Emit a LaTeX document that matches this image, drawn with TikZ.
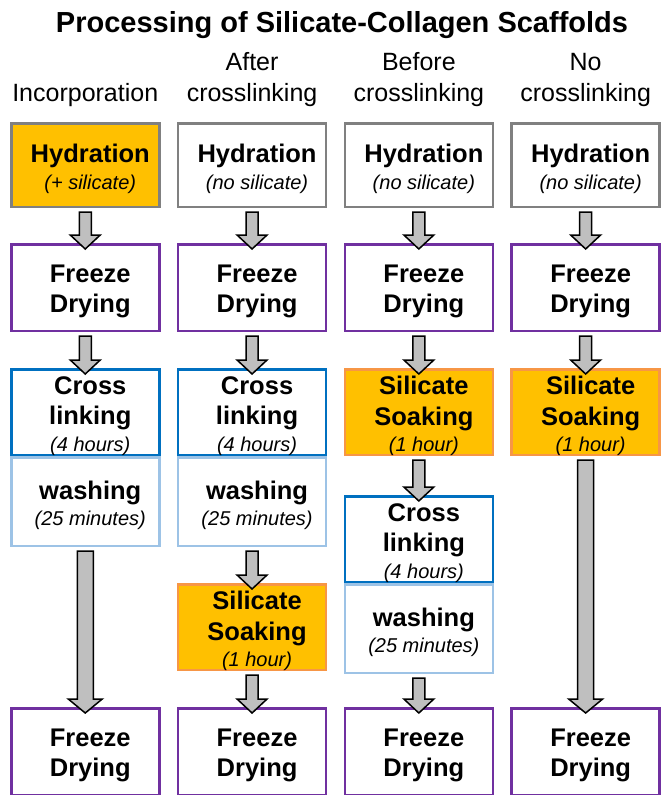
\documentclass[tikz,border=0pt]{standalone}
\usepackage{fontspec}
\setmainfont{Liberation Sans}
\usepackage{tikz}
\usetikzlibrary{positioning, calc}
\usepackage{xcolor}

\definecolor{silorange}{HTML}{FFC000}
\definecolor{silborder}{HTML}{F79646}
\definecolor{hydgray}{HTML}{808080}
\definecolor{frzpurple}{HTML}{7030A0}
\definecolor{xlblue}{HTML}{0070C0}
\definecolor{washblue}{HTML}{9DC3E6}
\definecolor{arrowgray}{HTML}{BFBFBF}

\newcommand{\boxfont}{\fontsize{25.5pt}{30.5pt}\selectfont\bfseries}
\newcommand{\subtxt}[1]{{\fontsize{20pt}{24pt}\selectfont\mdseries\itshape #1}}

% block arrow from the bottom of #2 into the top of #3, half shaft width #1
\newcommand{\flowarrow}[3][6pt]{%
\draw[blockarrow] let \p1=($(#2.south)+(0,-4pt)$), \p2=($(#3.north)+(0,-6pt)$) in
(\x1-#1,\y1) -- (\x1+#1,\y1) -- (\x1+#1,\y2+14pt) -- (\x1+#1+9pt,\y2+14pt)
-- (\x1,\y2) -- (\x1-#1-9pt,\y2+14pt) -- (\x1-#1,\y2+14pt) -- cycle;}

\begin{document}
\begin{tikzpicture}[
node distance=16.3pt,
box/.style={draw,
rectangle,
line width=2.5pt,
minimum width=148pt,
inner sep=0pt},
hydbox/.style={box, draw=hydgray, minimum height=83.5pt},
frzbox/.style={box, draw=frzpurple, minimum height=86.5pt},
xlbox/.style={box, draw=xlblue, minimum height=85.5pt},
washbox/.style={box, draw=washblue, minimum height=88.5pt},
silbox/.style={box, draw=silborder, fill=silorange, minimum height=85.5pt},
txt/.style={align=center, xshift=5pt, yshift=-4pt, font=\boxfont},
head/.style={align=center, inner sep=0pt, font=\fontsize{25pt}{31pt}\selectfont},
blockarrow/.style={draw=black, fill=arrowgray, line width=1.5pt}
]
\useasboundingbox (0,0) rectangle (661pt,-795pt);

\node[anchor=base, font=\fontsize{29pt}{34pt}\selectfont\bfseries] (title) at (342pt,-32pt) {Processing of Silicate-Collagen Scaffolds};

% first row
\node[hydbox, fill=silorange, label={[txt]center:{Hydration\\[-4pt]\subtxt{(+ silicate)}}}] (hyd1) at (85.25pt,-165pt) {};
\node[hydbox, right=of hyd1, label={[txt]center:{Hydration\\[-4pt]\subtxt{(no silicate)}}}] (hyd2) {};
\node[hydbox, right=of hyd2, label={[txt]center:{Hydration\\[-4pt]\subtxt{(no silicate)}}}] (hyd3) {};
\node[hydbox, right=of hyd3, label={[txt]center:{Hydration\\[-4pt]\subtxt{(no silicate)}}}] (hyd4) {};

\node[head, above=15pt of hyd1] (head1) {Incorporation};
\node[head, above=15pt of hyd2] (head2) {After\\crosslinking};
\node[head, above=15pt of hyd3] (head3) {Before\\crosslinking};
\node[head, above=15pt of hyd4] (head4) {No\\crosslinking};

% Incorporation
\node[frzbox, below=35pt of hyd1, label={[txt]center:{Freeze\\Drying}}] (frz1) {};
\node[xlbox, below=36pt of frz1, label={[txt]center:{Cross\\linking\\[-4pt]\subtxt{(4 hours)}}}] (xl1) {};
\node[washbox, below=0pt of xl1, label={[txt]center:{washing\\[-4pt]\subtxt{(25 minutes)}}}] (wash1) {};

% After crosslinking
\node[frzbox, below=35pt of hyd2, label={[txt]center:{Freeze\\Drying}}] (frz2) {};
\node[xlbox, below=36pt of frz2, label={[txt]center:{Cross\\linking\\[-4pt]\subtxt{(4 hours)}}}] (xl2) {};
\node[washbox, below=0pt of xl2, label={[txt]center:{washing\\[-4pt]\subtxt{(25 minutes)}}}] (wash2) {};
\node[silbox, below=36pt of wash2, label={[txt]center:{Silicate\\Soaking\\[-4pt]\subtxt{(1 hour)}}}] (sil2) {};

% Before crosslinking
\node[frzbox, below=35pt of hyd3, label={[txt]center:{Freeze\\Drying}}] (frz3) {};
\node[silbox, below=36pt of frz3, label={[txt]center:{Silicate\\Soaking\\[-4pt]\subtxt{(1 hour)}}}] (sil3) {};
\node[xlbox, below=39pt of sil3, label={[txt]center:{Cross\\linking\\[-4pt]\subtxt{(4 hours)}}}] (xl3) {};
\node[washbox, below=0pt of xl3, label={[txt]center:{washing\\[-4pt]\subtxt{(25 minutes)}}}] (wash3) {};

% No crosslinking
\node[frzbox, below=35pt of hyd4, label={[txt]center:{Freeze\\Drying}}] (frz4) {};
\node[silbox, below=36pt of frz4, label={[txt]center:{Silicate\\Soaking\\[-4pt]\subtxt{(1 hour)}}}] (sil4) {};

% last row
\node[frzbox, below=36pt of sil2, label={[txt]center:{Freeze\\Drying}}] (frzend2) {};
\node[frzbox, left=of frzend2, label={[txt]center:{Freeze\\Drying}}] (frzend1) {};
\node[frzbox, right=of frzend2, label={[txt]center:{Freeze\\Drying}}] (frzend3) {};
\node[frzbox, right=of frzend3, label={[txt]center:{Freeze\\Drying}}] (frzend4) {};

\flowarrow{hyd1}{frz1}
\flowarrow{frz1}{xl1}
\flowarrow[8pt]{wash1}{frzend1}

\flowarrow{hyd2}{frz2}
\flowarrow{frz2}{xl2}
\flowarrow{wash2}{sil2}
\flowarrow{sil2}{frzend2}

\flowarrow{hyd3}{frz3}
\flowarrow{frz3}{sil3}
\flowarrow{sil3}{xl3}
\flowarrow{wash3}{frzend3}

\flowarrow{hyd4}{frz4}
\flowarrow{frz4}{sil4}
\flowarrow[8pt]{sil4}{frzend4}

\end{tikzpicture}
\end{document}
